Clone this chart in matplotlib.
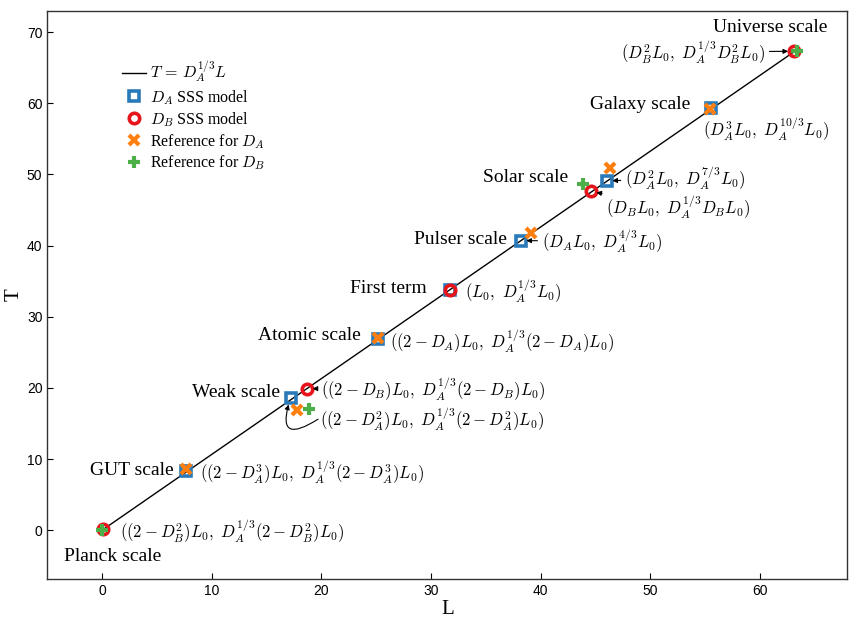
import matplotlib
matplotlib.use("Agg")
import matplotlib.pyplot as plt

plt.rcParams['mathtext.fontset'] = 'cm'
plt.rcParams['font.family'] = ['Liberation Serif', 'DejaVu Serif']

# ---------------- data ----------------
line_L = [0.0, 63.2]
line_T = [0.0, 67.3]

# D_A SSS model (squares): GUT, Weak, Atomic, First term, Pulser, Solar, Galaxy
sqA_L = [7.7, 17.2, 25.2, 31.75, 38.2, 46.05, 55.6]
sqA_T = [8.35, 18.6, 26.9, 33.8, 40.7, 49.1, 59.3]

# D_B SSS model (circles): Planck, Weak, First term, Solar, Universe
ciB_L = [0.1, 18.7, 31.75, 44.6, 63.1]
ciB_T = [0.2, 19.9, 33.8, 47.6, 67.3]

# Reference for D_A (x): GUT, Weak, Atomic, Pulser, Solar, Galaxy
refA_L = [7.7, 17.8, 25.2, 39.1, 46.3, 55.5]
refA_T = [8.6, 16.9, 27.0, 41.7, 50.9, 59.2]

# Reference for D_B (+): Planck, Weak, Solar, Universe
refB_L = [0.0, 18.9, 43.9, 63.4]
refB_T = [0.1, 17.0, 48.6, 67.4]

x_ticks = [0, 10, 20, 30, 40, 50, 60]
y_ticks = [0, 10, 20, 30, 40, 50, 60, 70]

scale_names = ["Universe scale", "Galaxy scale", "Solar scale", "Pulser scale",
               "First term", "Atomic scale", "Weak scale", "GUT scale", "Planck scale"]

# ---------------- figure ----------------
fig = plt.figure(figsize=(8.49, 6.19), dpi=100)
ax = fig.add_axes([0.0557, 0.0641, 0.9424, 0.9186])

c_blue = '#2a7ab9'
c_red = '#e8141c'
c_orange = '#ff7f0e'
c_green = '#4caf48'

ax.plot(line_L, line_T, color='k', lw=1.0, label=r'$T\,=\,D_A^{1/3}L$', zorder=2)
ax.plot(sqA_L, sqA_T, ls='none', marker='s', ms=7.5, mew=2.6, mfc='none', mec=c_blue,
        label=r'$D_A$ SSS model', zorder=3)
ax.plot(ciB_L, ciB_T, ls='none', marker='o', ms=7.5, mew=2.6, mfc='none', mec=c_red,
        label=r'$D_B$ SSS model', zorder=3)
ax.plot(refA_L, refA_T, ls='none', marker='x', ms=7.5, mew=3.0, color=c_orange,
        label=r'Reference for $D_A$', zorder=4)
ax.plot(refB_L, refB_T, ls='none', marker='+', ms=8, mew=3.0, color=c_green,
        label=r'Reference for $D_B$', zorder=4)

ax.set_xlim(-5, 68)
ax.set_ylim(-6.9, 73)
ax.set_xticks(x_ticks)
ax.set_yticks(y_ticks)
ax.tick_params(direction='in', length=4, width=0.8, labelsize=10)
for lab in ax.get_xticklabels() + ax.get_yticklabels():
    lab.set_family(['Liberation Sans', 'DejaVu Sans'])
for sp in ax.spines.values():
    sp.set_linewidth(1.0)
    sp.set_color('#333333')

ax.set_xlabel('L', fontsize=15, labelpad=1)
ax.set_ylabel('T', fontsize=15, labelpad=2)

# scale names
fs_name = 14
ax.text(61.0, 70.6, scale_names[0], ha='center', va='center', fontsize=fs_name)
ax.text(53.7, 59.8, scale_names[1], ha='right', va='center', fontsize=fs_name)
ax.text(42.5, 49.5, scale_names[2], ha='right', va='center', fontsize=fs_name)
ax.text(36.9, 40.8, scale_names[3], ha='right', va='center', fontsize=fs_name)
ax.text(29.6, 33.9, scale_names[4], ha='right', va='center', fontsize=fs_name)
ax.text(23.6, 27.3, scale_names[5], ha='right', va='center', fontsize=fs_name)
ax.text(16.2, 19.3, scale_names[6], ha='right', va='center', fontsize=fs_name)
ax.text(6.5, 8.4, scale_names[7], ha='right', va='center', fontsize=fs_name)
ax.text(-3.5, -3.7, scale_names[8], ha='left', va='center', fontsize=fs_name)

# formulas
fs_f = 12
arrow = dict(arrowstyle='-|>', color='k', lw=0.8, mutation_scale=7, shrinkA=1, shrinkB=4)
ax.annotate(r'$(D_B^2L_0,\ D_A^{1/3}D_B^2L_0)$', xy=(ciB_L[4], ciB_T[4]),
            xytext=(60.5, 67.2), ha='right', va='center', fontsize=fs_f, arrowprops=arrow)
ax.text(54.8, 56.3, r'$(D_A^3L_0,\ D_A^{10/3}L_0)$', ha='left', va='center', fontsize=fs_f)
ax.annotate(r'$(D_A^2L_0,\ D_A^{7/3}L_0)$', xy=(sqA_L[5], sqA_T[5]),
            xytext=(47.7, 49.4), ha='left', va='center', fontsize=fs_f, arrowprops=arrow)
ax.annotate(r'$(D_BL_0,\ D_A^{1/3}D_BL_0)$', xy=(ciB_L[3], ciB_T[3]),
            xytext=(46.0, 45.4), ha='left', va='center', fontsize=fs_f, arrowprops=arrow)
ax.annotate(r'$(D_AL_0,\ D_A^{4/3}L_0)$', xy=(sqA_L[4], sqA_T[4]),
            xytext=(40.1, 40.6), ha='left', va='center', fontsize=fs_f, arrowprops=arrow)
ax.text(33.1, 33.6, r'$(L_0,\ D_A^{1/3}L_0)$', ha='left', va='center', fontsize=fs_f)
ax.text(26.3, 26.6, r'$((2-D_A)L_0,\ D_A^{1/3}(2-D_A)L_0)$', ha='left', va='center', fontsize=fs_f)
ax.annotate(r'$((2-D_B)L_0,\ D_A^{1/3}(2-D_B)L_0)$', xy=(ciB_L[1], ciB_T[1]),
            xytext=(20.0, 19.8), ha='left', va='center', fontsize=fs_f, arrowprops=arrow)
ax.text(19.9, 15.6, r'$((2-D_A^2)L_0,\ D_A^{1/3}(2-D_A^2)L_0)$', ha='left', va='center',
        fontsize=fs_f)
curved = dict(arrowstyle='-|>', color='k', lw=0.8, mutation_scale=7, shrinkA=0, shrinkB=5,
              connectionstyle='arc3,rad=-1.4')
ax.annotate('', xy=(sqA_L[1], sqA_T[1]), xytext=(19.7, 15.6), arrowprops=curved)
ax.text(8.9, 8.2, r'$((2-D_A^3)L_0,\ D_A^{1/3}(2-D_A^3)L_0)$', ha='left', va='center', fontsize=fs_f)
ax.text(1.6, -0.1, r'$((2-D_B^2)L_0,\ D_A^{1/3}(2-D_B^2)L_0)$', ha='left', va='center', fontsize=fs_f)

leg = ax.legend(loc='upper left', bbox_to_anchor=(0.085, 0.925), frameon=False,
                fontsize=11.5, handlelength=1.5, handletextpad=0.3, labelspacing=0.2,
                borderaxespad=0)

fig.savefig('out.png', dpi=100)
